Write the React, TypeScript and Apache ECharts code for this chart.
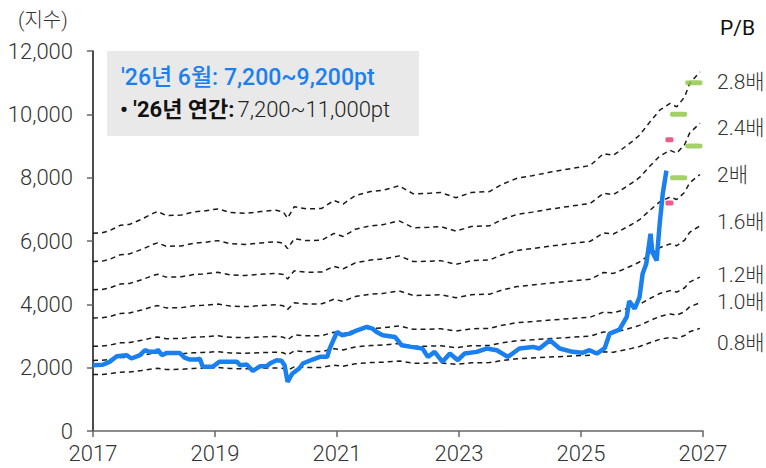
import React, { useEffect, useRef } from "react";
import * as echarts from "echarts";

// KOSPI index level (decimal year, index points)
const kospi: [number, number][] = [
  [2017.0, 2079], [2017.16, 2090], [2017.27, 2184], [2017.39, 2360], [2017.55, 2394],
  [2017.63, 2289], [2017.77, 2394], [2017.85, 2551], [2017.93, 2499], [2018.04, 2499],
  [2018.06, 2572], [2018.13, 2394], [2018.21, 2467], [2018.42, 2467], [2018.5, 2320],
  [2018.59, 2257], [2018.7, 2257], [2018.75, 2289], [2018.8, 2026], [2018.96, 2026],
  [2019.07, 2184], [2019.36, 2184], [2019.41, 2079], [2019.52, 2100], [2019.62, 1900],
  [2019.74, 2047], [2019.85, 2047], [2019.9, 2131], [2020.01, 2236], [2020.09, 2220],
  [2020.14, 2079], [2020.19, 1553], [2020.27, 1817], [2020.38, 1974], [2020.44, 2131],
  [2020.6, 2257], [2020.72, 2341], [2020.84, 2341], [2020.88, 2600], [2021.0, 3127],
  [2021.08, 3024], [2021.21, 3076], [2021.33, 3181], [2021.49, 3286], [2021.58, 3233],
  [2021.65, 3127], [2021.75, 3024], [2021.95, 2971], [2022.06, 2709], [2022.22, 2656],
  [2022.4, 2604], [2022.49, 2341], [2022.6, 2499], [2022.73, 2184], [2022.85, 2446],
  [2022.98, 2236], [2023.09, 2446], [2023.29, 2499], [2023.45, 2604], [2023.62, 2551],
  [2023.8, 2341], [2023.99, 2604], [2024.21, 2656], [2024.32, 2604], [2024.49, 2866],
  [2024.65, 2604], [2024.86, 2499], [2025.02, 2470], [2025.14, 2551], [2025.26, 2446],
  [2025.39, 2620], [2025.47, 3076], [2025.63, 3202], [2025.75, 3601], [2025.79, 4100],
  [2025.88, 3864], [2025.96, 4230], [2026.01, 4966], [2026.07, 5280], [2026.14, 6228],
  [2026.17, 5646], [2026.24, 5386], [2026.29, 6541], [2026.34, 7486], [2026.4, 8220],
];

// Book value per share on the index basis (decimal year, points)
const bps: [number, number][] = [
  [2017.0, 2230], [2017.15, 2235], [2017.28, 2262], [2017.45, 2320], [2017.6, 2330],
  [2017.8, 2390], [2018.0, 2460], [2018.06, 2475], [2018.2, 2430], [2018.45, 2435],
  [2018.65, 2470], [2018.8, 2480], [2019.05, 2505], [2019.25, 2465], [2019.5, 2455],
  [2019.75, 2475], [2020.0, 2490], [2020.12, 2470], [2020.19, 2400], [2020.3, 2530],
  [2020.5, 2505], [2020.75, 2510], [2020.95, 2600], [2021.1, 2560], [2021.3, 2655],
  [2021.55, 2700], [2021.75, 2715], [2022.02, 2765], [2022.25, 2675], [2022.5, 2680],
  [2022.7, 2690], [2022.95, 2630], [2023.2, 2690], [2023.5, 2700], [2023.7, 2780],
  [2023.95, 2850], [2024.2, 2880], [2024.5, 2920], [2024.8, 2955], [2025.15, 2994],
  [2025.37, 3129], [2025.53, 3110], [2025.65, 3167], [2025.83, 3261], [2025.96, 3336],
  [2026.13, 3486], [2026.29, 3618], [2026.46, 3694], [2026.57, 3656], [2026.7, 3769],
  [2026.78, 3919], [2026.95, 4050],
];

// P/B multiples for the band lines
const multiples = [2.8, 2.4, 2.0, 1.6, 1.2, 1.0, 0.8];
const multipleLabels = ["2.8배", "2.4배", "2배", "1.6배", "1.2배", "1.0배", "0.8배"];

// Target markers
const juneRange: [number, number][] = [[2026.45, 7200], [2026.45, 9200]];
const targetMarks: [number, number][] = [
  [2026.6, 8000], [2026.6, 10000], [2026.85, 9000], [2026.85, 11000],
];

const xTicks = [2017, 2019, 2021, 2023, 2025, 2027];

const FONT = "Roboto, 'Noto Sans CJK KR', sans-serif";

export default function App() {
  const ref = useRef<HTMLDivElement>(null);

  useEffect(() => {
    if (!ref.current) return;
    const chart = echarts.init(ref.current, undefined, { renderer: "svg" });

    const labelYs = [82, 128, 175, 222, 275, 302, 343];

    const bandSeries = multiples.map((m) => ({
      type: "line" as const,
      name: `PB ${m}`,
      data: bps.map(([t, b]) => [t, Math.round(b * m)]),
      symbol: "none",
      lineStyle: { color: "#1a1a1a", width: 1.5, type: [5, 4] as any },
      z: 2,
      silent: true,
    }));

    chart.setOption({
      animation: false,
      textStyle: { fontFamily: FONT },
      grid: { left: 93, right: 63, top: 51, bottom: 37 },
      xAxis: {
        type: "value",
        min: 2017,
        max: 2027,
        interval: 2,
        axisLine: { show: true, lineStyle: { color: "#666", width: 1.5 } },
        axisTick: { show: true, length: 6, lineStyle: { color: "#666", width: 1.5 } },
        axisLabel: {
          color: "#333",
          fontSize: 22,
          fontWeight: 300,
          margin: 11,
          fontFamily: FONT,
          formatter: (v: number) => (xTicks.includes(v) ? String(v) : ""),
        },
        splitLine: { show: false },
      },
      yAxis: {
        type: "value",
        min: 0,
        max: 12000,
        interval: 2000,
        axisLine: { show: true, lineStyle: { color: "#111", width: 1.5 } },
        axisTick: { show: true, length: 6, lineStyle: { color: "#666", width: 1.5 } },
        axisLabel: {
          color: "#333",
          fontSize: 22,
          fontWeight: 300,
          margin: 20,
          fontFamily: FONT,
          formatter: (v: number) => v.toLocaleString("en-US"),
        },
        splitLine: { show: false },
      },
      series: [
        ...bandSeries,
        {
          type: "line",
          name: "KOSPI",
          data: kospi,
          symbol: "none",
          lineStyle: { color: "#1a80f0", width: 4.5 },
          z: 4,
        },
        {
          type: "scatter",
          name: "6월",
          data: juneRange,
          symbol: "roundRect",
          symbolSize: [8, 5],
          itemStyle: { color: "#e8336b" },
          z: 5,
        },
        {
          type: "scatter",
          name: "target",
          data: targetMarks,
          symbol: "roundRect",
          symbolSize: [17, 5],
          itemStyle: { color: "#8cc63e" },
          z: 5,
        },
      ],
      graphic: [
        {
          type: "rect",
          shape: { x: 107, y: 51, width: 312, height: 85 },
          style: { fill: "#e9e9e9" },
          z: 1,
        },
        {
          type: "text",
          x: 121,
          y: 77,
          style: {
            text: "'26년 6월: 7,200~9,200pt",
            fill: "#1a80f0",
            fontSize: 23,
            fontWeight: 500,
            fontFamily: FONT,
            verticalAlign: "middle",
          },
          z: 10,
        },
        {
          type: "text",
          x: 120,
          y: 109,
          style: {
            text: "{b|• '26년 연간:} {r|7,200~11,000pt}",
            fontFamily: FONT,
            verticalAlign: "middle",
            rich: {
              b: { fontSize: 22, fontWeight: "bold", fill: "#111", fontFamily: FONT },
              r: { fontSize: 22, fontWeight: 300, fill: "#222", fontFamily: FONT },
            },
          },
          z: 10,
        },
        {
          type: "text",
          x: 18,
          y: 20,
          style: {
            text: "(지수)",
            fill: "#333",
            fontSize: 20,
            fontWeight: 300,
            fontFamily: FONT,
            verticalAlign: "middle",
          },
        },
        {
          type: "text",
          x: 720,
          y: 28,
          style: {
            text: "P/B",
            fill: "#111",
            fontSize: 21,
            fontFamily: FONT,
            verticalAlign: "middle",
          },
        },
        ...multipleLabels.map((t, i) => ({
          type: "text" as const,
          x: 717,
          y: labelYs[i],
          style: {
            text: t,
            fill: "#333",
            fontSize: 21,
            fontWeight: 300,
            fontFamily: FONT,
            verticalAlign: "middle" as const,
          },
        })),
      ],
    });

    return () => chart.dispose();
  }, []);

  return (
    <div
      ref={ref}
      style={{ position: "fixed", left: 0, top: 0, width: 766, height: 468, background: "#fff" }}
    />
  );
}
